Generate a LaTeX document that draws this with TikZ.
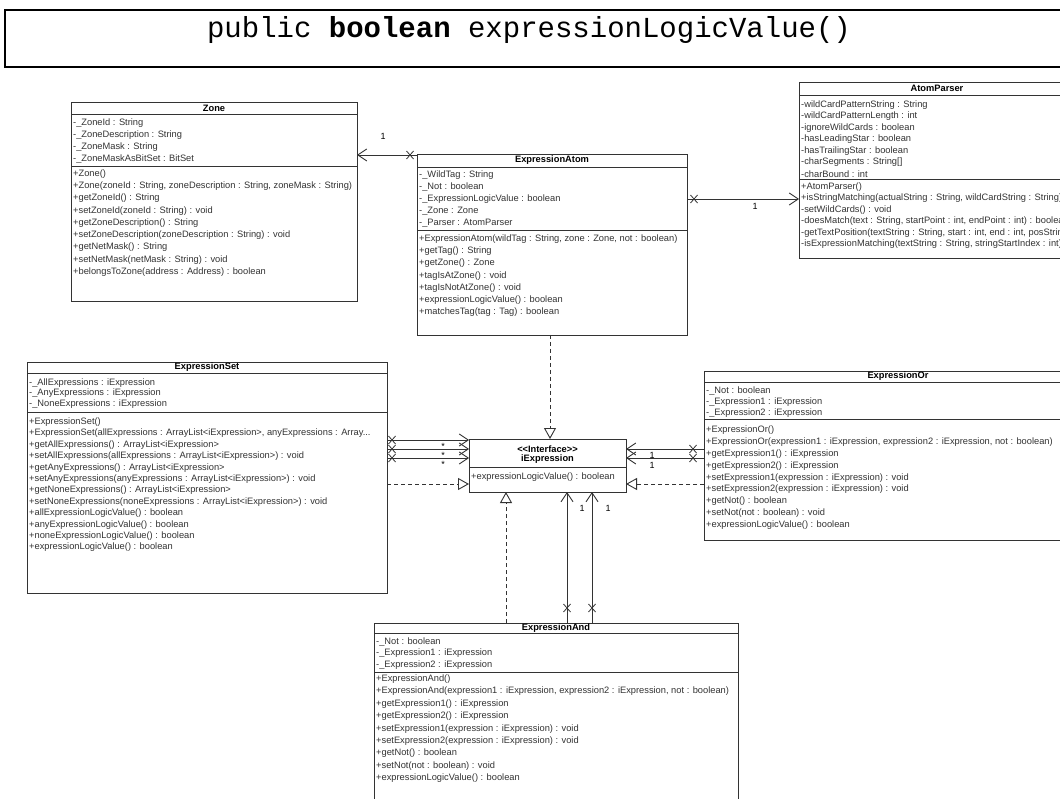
\documentclass[tikz,border=0pt]{standalone}
\usepackage{fontspec}
\setmainfont{Liberation Sans}
\newfontfamily\codefont{Liberation Mono}
\usetikzlibrary{arrows.meta,calc}

\definecolor{ink}{HTML}{333333}
\newcommand\ellip{...}

\tikzset{
  x=1pt, y=-1pt,
  cls/.style={draw=ink, line width=0.9pt, fill=white, rectangle, anchor=north west,
              inner sep=0pt, outer sep=0pt},
  ttl/.style={font=\fontsize{9.3}{11}\selectfont\bfseries, inner sep=0pt, text=black},
  mem/.style={font=\fontsize{9.3}{11}\selectfont, anchor=west, inner sep=0pt, text=ink},
  sepline/.style={draw=ink, line width=0.9pt},
  assoc/.style={draw=ink, line width=0.9pt, -{Straight Barb[length=9pt,width=12pt]}},
  realize/.style={draw=ink, line width=0.9pt, dash pattern=on 4pt off 3pt,
                  -{Triangle[open,length=11pt,width=12pt]}},
  mult/.style={font=\fontsize{9}{11}\selectfont, inner sep=0pt, text=black},
}
% navigability cross on an association end
\newcommand\navx[1]{\draw[draw=ink,line width=0.8pt] (#1) +(-3.5,-4) -- +(3.5,4) (#1) +(-3.5,4) -- +(3.5,-4);}

\begin{document}
\begin{tikzpicture}
\useasboundingbox (0,0) rectangle (1060,799);
\fill[white] (0,0) rectangle (1060,799);
\clip (0,0) rectangle (1060,799);

% method signature banner
\node[draw=black, line width=2.2pt, rectangle, minimum width=1070pt, minimum height=57pt,
      anchor=north west, inner sep=0pt] (sig) at (4,9) {};
\node[font=\codefont\fontsize{29}{32}\selectfont, anchor=base, inner sep=0pt] (sigtext)
      at (529,37.5) {public \textbf{boolean} expressionLogicValue()};

% ---------------- Zone
\node[cls, minimum width=286pt, minimum height=199pt] (zone) at (71,102) {};
\node[ttl] (zone-t) at (214,108) {Zone};
\draw[sepline] (zone.west |- 0,114) -- (zone.east |- 0,114);
\draw[sepline] (zone.west |- 0,166) -- (zone.east |- 0,166);
\foreach \t [count=\i] in {{-\_ZoneId : String},{-\_ZoneDescription : String},
    {-\_ZoneMask : String},{-\_ZoneMaskAsBitSet : BitSet}}
  \node[mem] (zone-a\i) at (73,{123+12*(\i-1)}) {\t};
\foreach \t [count=\i] in {{+Zone()},
    {+Zone(zoneId : String, zoneDescription : String, zoneMask : String)},
    {+getZoneId() : String},{+setZoneId(zoneId : String) : void},
    {+getZoneDescription() : String},
    {+setZoneDescription(zoneDescription : String) : void},
    {+getNetMask() : String},{+setNetMask(netMask : String) : void},
    {+belongsToZone(address : Address) : boolean}}
  \node[mem] (zone-m\i) at (73,{174+12.25*(\i-1)}) {\t};

% ---------------- ExpressionAtom
\node[cls, minimum width=270pt, minimum height=181pt] (atom) at (417,154) {};
\node[ttl] (atom-t) at (552,160.5) {ExpressionAtom};
\draw[sepline] (atom.west |- 0,167) -- (atom.east |- 0,167);
\draw[sepline] (atom.west |- 0,230) -- (atom.east |- 0,230);
\foreach \t [count=\i] in {{-\_WildTag : String},{-\_Not : boolean},
    {-\_ExpressionLogicValue : boolean},{-\_Zone : Zone},{-\_Parser : AtomParser}}
  \node[mem] (atom-a\i) at (419,{175+12*(\i-1)}) {\t};
\foreach \t [count=\i] in {{+ExpressionAtom(wildTag : String, zone : Zone, not : boolean)},
    {+getTag() : String},{+getZone() : Zone},{+tagIsAtZone() : void},
    {+tagIsNotAtZone() : void},{+expressionLogicValue() : boolean},
    {+matchesTag(tag : Tag) : boolean}}
  \node[mem] (atom-m\i) at (419,{239+12.2*(\i-1)}) {\t};

% ---------------- AtomParser
\node[cls, minimum width=276pt, minimum height=176pt] (parser) at (799,82) {};
\node[ttl] (parser-t) at (937,88.5) {AtomParser};
\draw[sepline] (parser.west |- 0,95) -- (parser.east |- 0,95);
\draw[sepline] (parser.west |- 0,179) -- (parser.east |- 0,179);
\foreach \t [count=\i] in {{-wildCardPatternString : String},{-wildCardPatternLength : int},
    {-ignoreWildCards : boolean},{-hasLeadingStar : boolean},{-hasTrailingStar : boolean},
    {-charSegments : String[]},{-charBound : int}}
  \node[mem] (parser-a\i) at (801,{105+11.5*(\i-1)}) {\t};
\foreach \t [count=\i] in {{+AtomParser()},
    {+isStringMatching(actualString : String, wildCardString : String) : boolean},
    {-setWildCards() : void},
    {-doesMatch(text : String, startPoint : int, endPoint : int) : boolean},
    {-getTextPosition(textString : String, start : int, end : int, posString : String) : int},
    {-isExpressionMatching(textString : String, stringStartIndex : int) : boolean}}
  \node[mem] (parser-m\i) at (801,{187+11.5*(\i-1)}) {\t};

% ---------------- ExpressionSet
\node[cls, minimum width=360pt, minimum height=231pt] (set) at (27,362) {};
\node[ttl] (set-t) at (207,367.5) {ExpressionSet};
\draw[sepline] (set.west |- 0,373) -- (set.east |- 0,373);
\draw[sepline] (set.west |- 0,412) -- (set.east |- 0,412);
\foreach \t [count=\i] in {{-\_AllExpressions : iExpression},{-\_AnyExpressions : iExpression},
    {-\_NoneExpressions : iExpression}}
  \node[mem] (set-a\i) at (29,{383+10.5*(\i-1)}) {\t};
\foreach \t [count=\i] in {{+ExpressionSet()},
    {+ExpressionSet(allExpressions : ArrayList<iExpression>, anyExpressions : Array\ellip},
    {+getAllExpressions() : ArrayList<iExpression>},
    {+setAllExpressions(allExpressions : ArrayList<iExpression>) : void},
    {+getAnyExpressions() : ArrayList<iExpression>},
    {+setAnyExpressions(anyExpressions : ArrayList<iExpression>) : void},
    {+getNoneExpressions() : ArrayList<iExpression>},
    {+setNoneExpressions(noneExpressions : ArrayList<iExpression>) : void},
    {+allExpressionLogicValue() : boolean},{+anyExpressionLogicValue() : boolean},
    {+noneExpressionLogicValue() : boolean},{+expressionLogicValue() : boolean}}
  \node[mem] (set-m\i) at (29,{422+11.4*(\i-1)}) {\t};

% ---------------- iExpression
\node[cls, minimum width=157pt, minimum height=53pt] (iface) at (469,439) {};
\node[ttl] (iface-s) at (547.5,449) {<{}<Interface>{}>};
\node[ttl] (iface-t) at (547.5,459.5) {iExpression};
\draw[sepline] (iface.west |- 0,467) -- (iface.east |- 0,467);
\node[mem] (iface-m1) at (471,477) {+expressionLogicValue() : boolean};

% ---------------- ExpressionOr
\node[cls, minimum width=388pt, minimum height=169pt] (or) at (704,371) {};
\node[ttl] (or-t) at (898,376.5) {ExpressionOr};
\draw[sepline] (or.west |- 0,382) -- (or.east |- 0,382);
\draw[sepline] (or.west |- 0,419) -- (or.east |- 0,419);
\foreach \t [count=\i] in {{-\_Not : boolean},{-\_Expression1 : iExpression},
    {-\_Expression2 : iExpression}}
  \node[mem] (or-a\i) at (706,{391+11*(\i-1)}) {\t};
\foreach \t [count=\i] in {{+ExpressionOr()},
    {+ExpressionOr(expression1 : iExpression, expression2 : iExpression, not : boolean)},
    {+getExpression1() : iExpression},{+getExpression2() : iExpression},
    {+setExpression1(expression : iExpression) : void},
    {+setExpression2(expression : iExpression) : void},
    {+getNot() : boolean},{+setNot(not : boolean) : void},
    {+expressionLogicValue() : boolean}}
  \node[mem] (or-m\i) at (706,{430+11.9*(\i-1)}) {\t};

% ---------------- ExpressionAnd
\node[cls, minimum width=364pt, minimum height=192pt] (and) at (374,623) {};
\node[ttl] (and-t) at (556,628) {ExpressionAnd};
\draw[sepline] (and.west |- 0,633) -- (and.east |- 0,633);
\draw[sepline] (and.west |- 0,672) -- (and.east |- 0,672);
\foreach \t [count=\i] in {{-\_Not : boolean},{-\_Expression1 : iExpression},
    {-\_Expression2 : iExpression}}
  \node[mem] (and-a\i) at (376,{642+11.5*(\i-1)}) {\t};
\foreach \t [count=\i] in {{+ExpressionAnd()},
    {+ExpressionAnd(expression1 : iExpression, expression2 : iExpression, not : boolean)},
    {+getExpression1() : iExpression},{+getExpression2() : iExpression},
    {+setExpression1(expression : iExpression) : void},
    {+setExpression2(expression : iExpression) : void},
    {+getNot() : boolean},{+setNot(not : boolean) : void},
    {+expressionLogicValue() : boolean}}
  \node[mem] (and-m\i) at (376,{679+12.4*(\i-1)}) {\t};

% ---------------- associations
\draw[assoc] (atom.west |- 0,155) -- (zone.east |- 0,155);
\coordinate (nz) at (410,155); \navx{nz}
\node[mult] (lz) at (383,136) {1};

\draw[assoc] (atom.east |- 0,199) -- (parser.west |- 0,199);
\coordinate (np) at (694,199); \navx{np}
\node[mult] (lp) at (755,206) {1};

\foreach \y [count=\i] in {440,449,458} {
  \draw[assoc] (set.east |- 0,\y) -- (iface.west |- 0,\y);
  \coordinate (ns\i) at (392,\y); \navx{ns\i}
  \node[mult] (ls\i) at (443,{\y+6.5}) {*};
}

\foreach \y [count=\i] in {449,458} {
  \draw[assoc] (or.west |- 0,\y) -- (iface.east |- 0,\y);
  \coordinate (no\i) at (693,\y); \navx{no\i}
}
\node[mult] (lo1) at (652,455) {1};
\node[mult] (lo2) at (652,465) {1};

\foreach \x [count=\i] in {567,592} {
  \draw[assoc] (and.north -| \x,0) -- (iface.south -| \x,0);
  \coordinate (na\i) at (\x,608); \navx{na\i}
}
\node[mult] (la1) at (582,508) {1};
\node[mult] (la2) at (608,508) {1};

% ---------------- realizations of iExpression
\draw[realize] (atom.south -| 550,0) -- (iface.north -| 550,0);
\draw[realize] (set.east |- 0,484) -- (iface.west |- 0,484);
\draw[realize] (or.west |- 0,484) -- (iface.east |- 0,484);
\draw[realize] (and.north -| 506,0) -- (iface.south -| 506,0);
\end{tikzpicture}
\end{document}
